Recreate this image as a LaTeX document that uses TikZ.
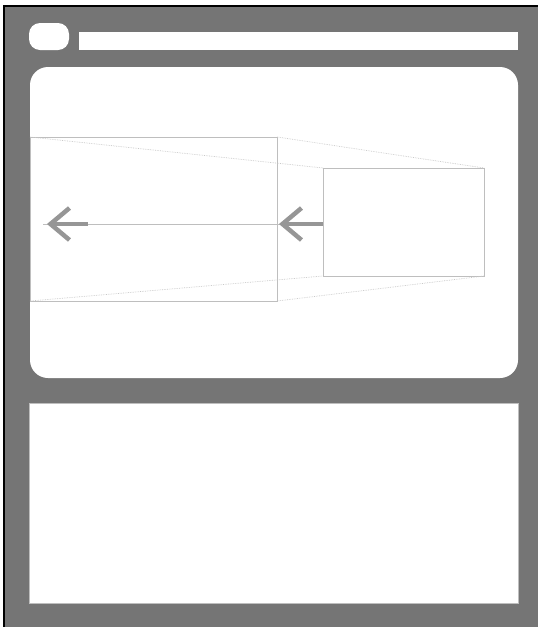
\documentclass[tikz,border=0pt]{standalone}
\usetikzlibrary{arrows.meta,positioning}
\definecolor{FrameGray}{RGB}{117,117,117}
\definecolor{EdgeGray}{RGB}{190,190,190}
\definecolor{RayGray}{RGB}{200,200,200}
\definecolor{ArrowGray}{RGB}{150,150,150}
\tikzset{
  card/.style={fill=white,draw=none,inner sep=0pt,outer sep=0pt},
  sheet/.style={draw=EdgeGray,fill=white,line width=0.8pt,inner sep=0pt,outer sep=0pt},
  ray/.style={RayGray,densely dotted,line width=0.7pt},
  axis/.style={EdgeGray,line width=0.8pt},
  chevron/.style={-{Straight Barb[length=19pt,width=32pt,line width=4.5pt]},line width=4pt,ArrowGray}
}

\begin{document}
\begin{tikzpicture}[x=1pt,y=-1pt]
      \useasboundingbox (0,0) rectangle (538,627);
      \clip (0,0) rectangle (538,627);
      \draw[black,line width=1.6pt,fill=FrameGray] (4,6) rectangle (545,635);
      \fill[white,rounded corners=11pt] (29,23) rectangle (69,50);
      \fill[white] (79,32) rectangle (518,50);
      \fill[white,rounded corners=18pt] (30,67) rectangle (518,378);
      \draw[EdgeGray,line width=0.6pt,fill=white] (29,403) rectangle (518,603);
      \node[sheet,minimum width=247pt,minimum height=164pt] (near) at (153.5,219) {};
      \node[sheet,minimum width=161pt,minimum height=108pt] (far) at (403.5,222) {};
      \draw[ray] (near.north west) -- (far.north west);
      \draw[ray] (near.north east) -- (far.north east);
      \draw[ray] (near.south west) -- (far.south west);
      \draw[ray] (near.south east) -- (far.south east);
      \coordinate (tail) at (43,224);
      \coordinate (lefttip) at (47,224);
      \coordinate (leftback) at (88,224);
      \coordinate (midtip) at (279,224);
      \draw[axis] (far.west |- tail) -- (tail);
      \draw[chevron] (leftback) -- (lefttip);
      \draw[chevron] (far.west |- tail) -- (midtip);
    \end{tikzpicture}
\end{document}
